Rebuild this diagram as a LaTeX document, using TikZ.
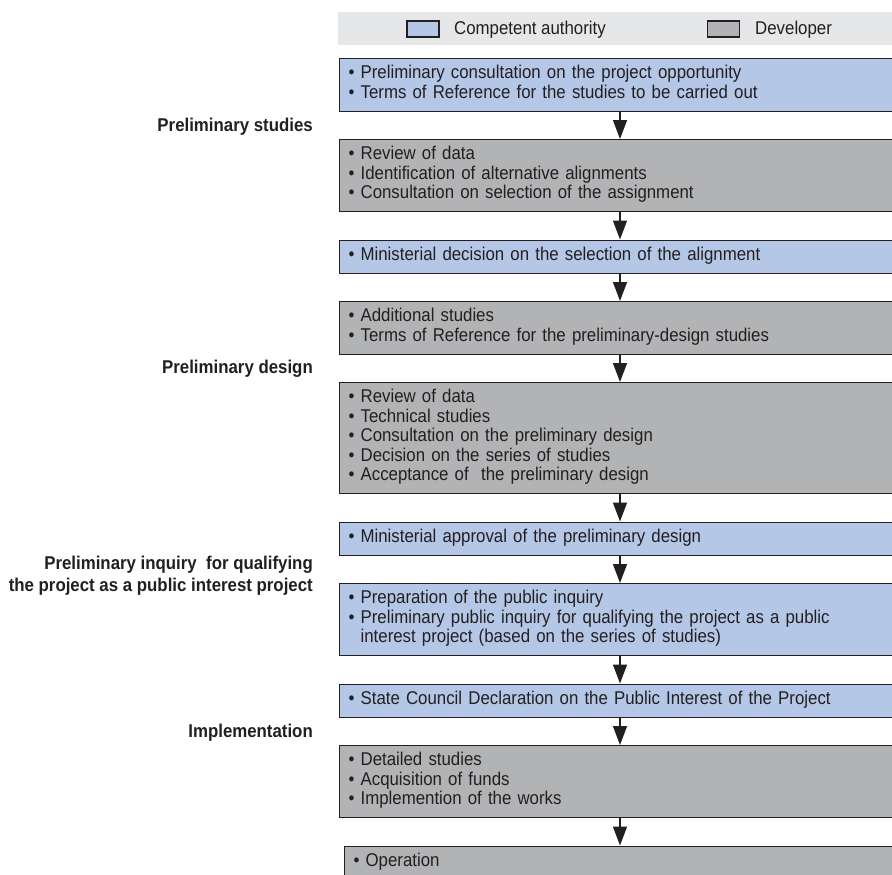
\documentclass[tikz,border=0pt]{standalone}
\usepackage{fontspec}
\setmainfont[FakeStretch=0.91]{Liberation Sans}
\usetikzlibrary{arrows.meta,calc}
\definecolor{cablue}{RGB}{180,199,231}
\definecolor{devgray}{RGB}{178,179,181}
\definecolor{bandgray}{RGB}{230,231,232}
\definecolor{ink}{RGB}{35,31,32}
\newcommand\li[1]{\textbullet\ #1\strut}
\newcommand\lc[1]{\phantom{\textbullet\ }#1\strut}
\begin{document}
\begin{tikzpicture}[x=1pt,y=-1pt,
  box/.style={draw=ink, line width=1.1pt, anchor=north west, minimum width=560pt,
    text width=542pt, inner xsep=9pt, inner ysep=0pt, align=left,
    font=\fontsize{18.5}{19.5}\selectfont, text=ink},
  ca/.style={box, fill=cablue},
  dev/.style={box, fill=devgray},
  lab/.style={anchor=base east, font=\fontsize{18.5}{19.5}\selectfont\bfseries, text=ink, inner sep=0pt},
  arr/.style={draw=ink, line width=1.4pt, -{Triangle[width=14pt,length=19pt]}},
  sw/.style={draw=ink, line width=1.1pt, minimum width=32pt, minimum height=16pt, inner sep=0pt},
  legtxt/.style={anchor=base west, font=\fontsize{18.5}{19.5}\selectfont, text=ink, inner sep=0pt}]
\useasboundingbox (0,0) rectangle (892,875);
\clip (0,0) rectangle (892,875);

% legend
\node[fill=bandgray, minimum width=560pt, minimum height=33pt, anchor=north west, inner sep=0pt] (legend) at (338,12) {};
\node[sw, fill=cablue] (s1) at (423,29) {};
\node[legtxt] (t1) at (454,34.5) {Competent authority};
\node[sw, fill=devgray] (s2) at (723.5,29) {};
\node[legtxt] (t2) at (755,34.5) {Developer};

% boxes
\node[ca, minimum height=52.5pt] (b1) at (339,58) {\li{Preliminary consultation on the project opportunity}\\ \li{Terms of Reference for the studies to be carried out}};
\node[dev, minimum height=72pt] (b2) at (339,139) {\li{Review of data}\\ \li{Identification of alternative alignments}\\ \li{Consultation on selection of the assignment}};
\node[ca, minimum height=33pt] (b3) at (339,239.5) {\li{Ministerial decision on the selection of the alignment}};
\node[dev, minimum height=52.5pt] (b4) at (339,301) {\li{Additional studies}\\ \li{Terms of Reference for the preliminary-design studies}};
\node[dev, minimum height=111pt] (b5) at (339,382) {\li{Review of data}\\ \li{Technical studies}\\ \li{Consultation on the preliminary design}\\ \li{Decision on the series of studies}\\ \li{Acceptance of\ \ the preliminary design}};
\node[ca, minimum height=33pt] (b6) at (339,521.5) {\li{Ministerial approval of the preliminary design}};
\node[ca, minimum height=72pt] (b7) at (339,583) {\li{Preparation of the public inquiry}\\ \li{Preliminary public inquiry for qualifying the project as a public}\\ \lc{interest project (based on the series of studies)}};
\node[ca, minimum height=33pt] (b8) at (339,683.5) {\li{State Council Declaration on the Public Interest of the Project}};
\node[dev, minimum height=72pt] (b9) at (339,745) {\li{Detailed studies}\\ \li{Acquisition of funds}\\ \li{Implemention of the works}};
\node[dev, minimum height=33pt] (b10) at (344,845.5) {\li{Operation}};

% arrows
\coordinate (ax) at (620,0);
\draw[arr] (b1.south -| ax) -- (b2.north -| ax);
\draw[arr] (b2.south -| ax) -- (b3.north -| ax);
\draw[arr] (b3.south -| ax) -- (b4.north -| ax);
\draw[arr] (b4.south -| ax) -- (b5.north -| ax);
\draw[arr] (b5.south -| ax) -- (b6.north -| ax);
\draw[arr] (b6.south -| ax) -- (b7.north -| ax);
\draw[arr] (b7.south -| ax) -- (b8.north -| ax);
\draw[arr] (b8.south -| ax) -- (b9.north -| ax);
\draw[arr] (b9.south -| ax) -- (b10.north -| ax);

% phase labels
\node[lab] (p1) at (313,131.3) {Preliminary studies};
\node[lab] (p2) at (313,373) {Preliminary design};
\node[lab] (p3a) at (313,569) {Preliminary inquiry\ \ for qualifying};
\node[lab] (p3b) at (313,591.5) {the project as a public interest project};
\node[lab] (p4) at (313,737.4) {Implementation};
\end{tikzpicture}
\end{document}
